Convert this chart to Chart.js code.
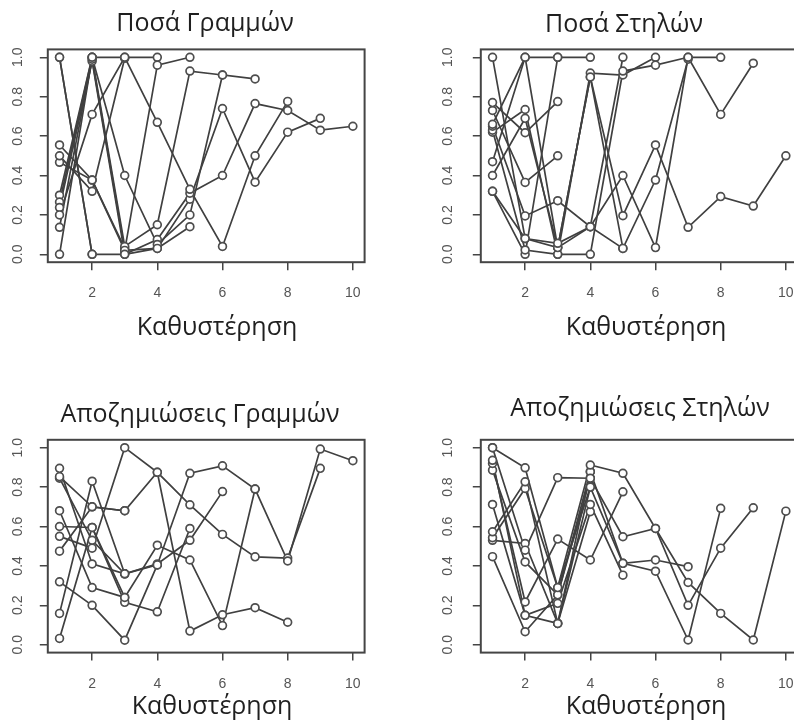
<!DOCTYPE html>
<html>
<head>
<meta charset="utf-8">
<script src="https://cdn.jsdelivr.net/npm/chart.js@4.4.1/dist/chart.umd.min.js"></script>
<style>
  html, body { margin: 0; padding: 0; background: #fff; width: 794px; height: 721px; overflow: hidden; }
  .panel { position: absolute; }
  canvas { display: block; }
</style>
</head>
<body>
<div class="panel" id="p0"><canvas id="c0"></canvas></div>
<div class="panel" id="p1"><canvas id="c1"></canvas></div>
<div class="panel" id="p2"><canvas id="c2"></canvas></div>
<div class="panel" id="p3"><canvas id="c3"></canvas></div>
<script>
// Lag values on the horizontal axis and the tick marks of both axes
const lags = [1, 2, 3, 4, 5, 6, 7, 8, 9, 10];
const xTicks = [2, 4, 6, 8, 10];
const yTicks = [0, 0.2, 0.4, 0.6, 0.8, 1.0];

const titles = ['Ποσά Γραμμών', 'Ποσά Στηλών', 'Αποζημιώσεις Γραμμών', 'Αποζημιώσεις Στηλών'];
const xLabel = 'Καθυστέρηση';

// Each inner list is one trajectory, value at lag 1, 2, 3, ...
const posaGrammon = [
  [1.0, 0.0, 0.0, 0.03, 0.14],
  [0.0, 1.0, 0.40, 0.05, 0.20, 0.91, 0.89],
  [0.137, 0.99, 0.02, 0.96, 1.0],
  [0.20, 0.71, 1.0, 0.67, 0.33, 0.04, 0.50, 0.776],
  [0.237, 0.98, 0.0, 0.075, 0.31, 0.40, 0.765, 0.73, 0.63, 0.65],
  [0.265, 1.0, 1.0, 1.0],
  [0.30, 1.0, 0.04, 0.15, 0.93, 0.91],
  [0.555, 0.377, 0.02, 0.03, 0.28, 0.74, 0.366, 0.62, 0.69],
  [0.50, 0.32, 0.995],
  [0.467, 0.377, 0.03],
  [1.0, 0.0]
];

const posaStilon = [
  [1.0, 0.08, 0.056, 0.14, 0.03],
  [0.77, 0.617, 0.775],
  [0.73, 0.365, 0.50],
  [0.66, 1.0, 0.034, 0.90, 0.196, 0.555, 0.137, 0.293, 0.245, 0.50],
  [0.65, 0.195, 0.272, 0.14, 0.40, 0.034, 1.0, 0.71, 0.97],
  [0.63, 0.022, 0.0, 0.0, 0.93, 0.96, 1.0, 1.0],
  [0.62, 0.735, 0.0, 0.92, 0.91, 1.0],
  [0.47, 1.0, 1.0, 1.0],
  [0.40, 0.69, 0.034, 0.90, 0.03, 0.377, 0.99],
  [0.32, 0.0, 1.0],
  [0.32, 0.08, 0.034, 0.14, 1.0]
];

const apozGrammon = [
  [0.895, 0.41, 0.36, 0.405, 0.87, 0.908, 0.79, 0.425, 0.993, 0.934],
  [0.853, 0.70, 0.68, 0.875, 0.71, 0.56, 0.446, 0.44, 0.895],
  [0.845, 0.53, 0.36, 0.41, 0.53, 0.777],
  [0.68, 0.29, 0.24, 0.505, 0.43, 0.097, 0.79],
  [0.60, 0.595, 0.215, 0.167, 0.59],
  [0.55, 0.49, 1.0, 0.875, 0.069, 0.152, 0.188, 0.114],
  [0.475, 0.70, 0.68],
  [0.319, 0.20, 0.023, 0.405],
  [0.159, 0.83, 0.36],
  [0.032, 0.595, 0.24]
];

const apozStilon = [
  [1.0, 0.898, 0.29, 0.912, 0.87, 0.59, 0.316, 0.159, 0.024, 0.678],
  [1.0, 0.48, 0.848, 0.845, 0.548, 0.59, 0.20, 0.49, 0.695],
  [0.936, 0.149, 0.108, 0.80, 0.413, 0.43, 0.396],
  [0.92, 0.217, 0.536, 0.43, 0.776],
  [0.886, 0.42, 0.253, 0.878, 0.413, 0.373, 0.024, 0.692],
  [0.712, 0.149, 0.21, 0.712, 0.353],
  [0.573, 0.827, 0.108, 0.675],
  [0.543, 0.793, 0.289, 0.80],
  [0.53, 0.514, 0.108, 0.878],
  [0.447, 0.066, 0.253, 0.845]
];

// Panel geometry in page pixels: outer box [left, top, width, height],
// plot area [left, top, right, bottom], caption anchors (cap centre)
const panels = [
  { canvas: 'c0', div: 'p0', box: [0, 0, 400, 360], area: [47.8, 49.4, 364.6, 262.2],
    titleAt: [205, 22], labelAt: [217, 326], yPad: 11.5, series: posaGrammon },
  { canvas: 'c1', div: 'p1', box: [400, 0, 430, 360], area: [480.8, 49.4, 797.6, 262.2],
    titleAt: [624, 23], labelAt: [646, 326], yPad: 14.5, series: posaStilon },
  { canvas: 'c2', div: 'p2', box: [0, 360, 400, 361], area: [47.8, 439.8, 364.6, 652.6],
    titleAt: [200, 413], labelAt: [212, 705], yPad: 11.5, series: apozGrammon },
  { canvas: 'c3', div: 'p3', box: [400, 360, 430, 361], area: [480.8, 439.8, 797.6, 652.6],
    titleAt: [640, 407], labelAt: [646, 705], yPad: 14.5, series: apozStilon }
];

const INK = '#404040';
const CAPTION_FONT = 25;

// Frame around the plotting region
const frame = {
  id: 'frame',
  afterDatasetsDraw(chart) {
    const { ctx, chartArea: a } = chart;
    ctx.save();
    ctx.strokeStyle = '#454545';
    ctx.lineWidth = 2;
    ctx.strokeRect(a.left, a.top, a.right - a.left, a.bottom - a.top);
    ctx.restore();
  }
};

// Panel heading and horizontal-axis caption
const captions = {
  id: 'captions',
  afterDraw(chart, args, opts) {
    const ctx = chart.ctx;
    ctx.save();
    ctx.fillStyle = '#1f1f1f';
    ctx.textAlign = 'center';
    ctx.textBaseline = 'alphabetic';
    ctx.font = CAPTION_FONT + 'px "Open Sans"';
    const drop = CAPTION_FONT * 0.357;
    ctx.fillText(opts.title, opts.titleAt[0], opts.titleAt[1] + drop);
    ctx.fillText(opts.label, opts.labelAt[0], opts.labelAt[1] + drop);
    ctx.restore();
  }
};

panels.forEach((p, k) => {
  const [bl, bt, bw, bh] = p.box;
  const [al, at, ar, ab] = p.area;
  const div = document.getElementById(p.div);
  div.style.left = bl + 'px';
  div.style.top = bt + 'px';
  div.style.width = bw + 'px';
  div.style.height = bh + 'px';
  const cv = document.getElementById(p.canvas);
  cv.width = bw; cv.height = bh;
  cv.style.width = bw + 'px'; cv.style.height = bh + 'px';

  const xAxisH = 40;
  const datasets = [];
  p.series.forEach((s) => {
    datasets.push({
      data: s, showLine: true, borderColor: INK, borderWidth: 1.7,
      pointRadius: 0, pointHoverRadius: 0, tension: 0, order: 2
    });
    datasets.push({
      data: s, showLine: false, pointStyle: 'circle', pointRadius: 3.9,
      pointBorderWidth: 1.7, pointBorderColor: '#4e4e4e', pointBackgroundColor: '#ffffff',
      pointHoverRadius: 3.9, order: 1
    });
  });

  new Chart(cv, {
    type: 'line',
    data: { labels: lags, datasets },
    plugins: [frame, captions],
    options: {
      responsive: false,
      animation: false,
      events: [],
      layout: {
        padding: {
          left: 0,
          top: at - bt,
          right: bl + bw - ar,
          bottom: bt + bh - ab - xAxisH
        }
      },
      plugins: {
        legend: { display: false },
        tooltip: { enabled: false },
        captions: { title: titles[k], label: xLabel, titleAt: [p.titleAt[0] - bl, p.titleAt[1] - bt], labelAt: [p.labelAt[0] - bl, p.labelAt[1] - bt] }
      },
      scales: {
        x: {
          type: 'linear', min: 0.64, max: 10.36,
          afterBuildTicks: (s) => { s.ticks = xTicks.map(v => ({ value: v })); },
          afterFit: (s) => { s.height = xAxisH; },
          grid: { drawOnChartArea: false, drawTicks: true, tickLength: 8, color: '#454545', lineWidth: 1.5 },
          border: { display: false },
          ticks: { color: '#555555', font: { family: 'Liberation Sans', size: 14 }, padding: 15, maxRotation: 0, minRotation: 0 }
        },
        y: {
          type: 'linear', min: -0.04, max: 1.04,
          afterBuildTicks: (s) => { s.ticks = yTicks.map(v => ({ value: v })); },
          afterFit: (s) => { s.width = al - bl; },
          grid: { drawOnChartArea: false, drawTicks: true, tickLength: 8, color: '#454545', lineWidth: 1.5 },
          border: { display: false },
          ticks: {
            color: '#555555', font: { family: 'Liberation Sans', size: 14 },
            padding: p.yPad, crossAlign: 'center', minRotation: 90, maxRotation: 90,
            callback: (v) => Number(v).toFixed(1)
          }
        }
      }
    }
  });
});
</script>
</body>
</html>
